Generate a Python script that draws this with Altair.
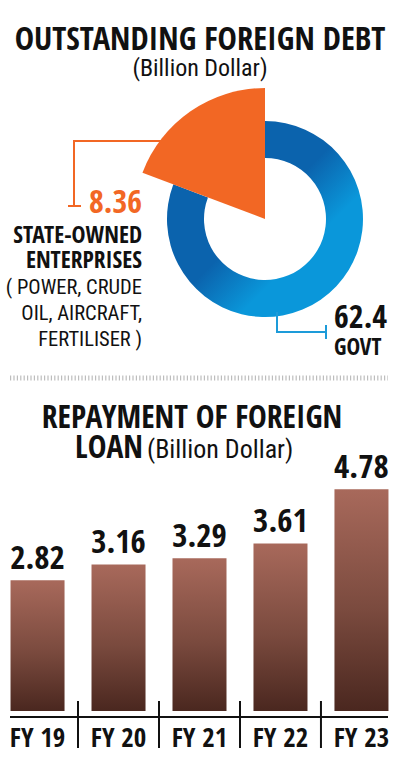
import altair as alt
import pandas as pd

# ---- data ----
debt_cats = ["Govt", "State-owned enterprises"]
debt_vals = [62.4, 8.36]
fy_labels = ["FY 19", "FY 20", "FY 21", "FY 22", "FY 23"]
repay_vals = [2.82, 3.16, 3.29, 3.61, 4.78]

debt_df = pd.DataFrame({"cat": debt_cats, "value": debt_vals, "ord": [0, 1]})
bar_df = pd.DataFrame({"FY": fy_labels, "value": repay_vals})

BOLD = "'Open Sans Condensed', 'Roboto Condensed', sans-serif"
REG = "'Roboto Condensed', 'Open Sans Condensed', sans-serif"
ORANGE = "#f26724"
BLUE_LINE = "#1d9bd9"

one = pd.DataFrame({"a": [0]})


def txt(s, x, y, size, color="#111111", align="left", font=BOLD, weight="bold"):
    return alt.Chart(one).mark_text(
        text=s, font=font, fontSize=size, fontWeight=weight, color=color,
        align=align, baseline="alphabetic"
    ).encode(x=alt.value(x), y=alt.value(y))


def rule(x, x2, y, y2, color, w=2):
    return alt.Chart(one).mark_rule(color=color, strokeWidth=w).encode(
        x=alt.value(x), x2=alt.value(x2), y=alt.value(y), y2=alt.value(y2))


blue_grad = alt.Gradient(
    gradient="linear", x1=0, y1=0, x2=1, y2=1,
    stops=[alt.GradientStop(offset=0.48, color="#0b63ad"), alt.GradientStop(offset=0.68, color="#0a97da")],
)

theta_scale = alt.Scale(type="pow", exponent=1.7)


def slice_layer(cat, r, r2, color):
    # every layer stacks both slices, only one of them is made visible
    return alt.Chart(debt_df).mark_arc(radius=r, radius2=r2, color=color).encode(
        theta=alt.Theta("value:Q", stack=True, scale=theta_scale),
        order=alt.Order("ord:Q", sort="ascending"),
        opacity=alt.condition(alt.datum.cat == cat, alt.value(1), alt.value(0)),
        x=alt.value(265),
        y=alt.value(219),
    )


donut_govt = slice_layer("Govt", 98, 61, blue_grad)
donut_soe = slice_layer("State-owned enterprises", 131, 0, ORANGE)

bar_grad = alt.Gradient(
    gradient="linear", x1=0, y1=0, x2=0, y2=1,
    stops=[alt.GradientStop(color="#a8695b", offset=0),
           alt.GradientStop(color="#7a4a3e", offset=0.55),
           alt.GradientStop(color="#4a271f", offset=1)],
)
xscale = alt.Scale(range=[0, 399], paddingInner=0.333, paddingOuter=0.13)
bars = alt.Chart(bar_df).mark_bar(color=bar_grad).encode(
    x=alt.X("FY:N", scale=xscale, axis=None, sort=fy_labels),
    y=alt.Y("value:Q", scale=alt.Scale(domain=[0, 5], range=[711, 479]), axis=None),
)
bar_labels = alt.Chart(bar_df).mark_text(
    font=BOLD, fontWeight="bold", fontSize=33, color="#111111", baseline="alphabetic", dy=-11
).encode(x=alt.X("FY:N", sort=fy_labels), y="value:Q", text=alt.Text("value:Q", format=".2f"))
fy_text = alt.Chart(bar_df).mark_text(
    font=BOLD, fontWeight="bold", fontSize=27, color="#111111", baseline="alphabetic"
).encode(x=alt.X("FY:N", sort=fy_labels), y=alt.value(747), text="FY:N")
seps = alt.Chart(bar_df.iloc[1:]).mark_rule(color="#111111", strokeWidth=2, xOffset=-13.5).encode(
    x=alt.X("FY:N", bandPosition=0, sort=fy_labels), y=alt.value(701), y2=alt.value(748))
baseline = rule(10, 388, 717, 717, "#111111", 2.2)

divider = alt.Chart(one).mark_rule(color="#bdbdbd", strokeWidth=5, strokeDash=[1.2, 2.2]).encode(
    x=alt.value(10), x2=alt.value(388), y=alt.value(378))

layers = [
    donut_govt, donut_soe,
    # orange leader
    rule(74, 165, 141, 141, ORANGE), rule(74, 74, 140, 207, ORANGE), rule(68, 81, 206, 206, ORANGE),
    # blue leader
    rule(277, 277, 312, 332, BLUE_LINE), rule(276, 326, 332, 332, BLUE_LINE), rule(326, 326, 325, 339, BLUE_LINE),
    txt("OUTSTANDING FOREIGN DEBT", 200, 50, 32.5, align="center"),
    txt("(Billion Dollar)", 200, 76, 24, align="center", font=REG, weight="normal"),
    txt("8.36", 142, 213, 32, color=ORANGE, align="right"),
    txt("STATE-OWNED", 142, 243, 23.5, align="right"),
    txt("ENTERPRISES", 142, 268, 23.5, align="right"),
    txt("( POWER, CRUDE", 142, 294, 20.5, align="right", font=REG, weight="normal"),
    txt("OIL, AIRCRAFT,", 142, 320, 20.5, align="right", font=REG, weight="normal"),
    txt("FERTILISER )", 142, 346, 20.5, align="right", font=REG, weight="normal"),
    txt("62.4", 334, 328, 32),
    txt("GOVT", 334, 355, 23),
    divider,
    txt("REPAYMENT OF FOREIGN", 192, 428, 31.5, align="center"),
    txt("LOAN", 75, 458, 31.5),
    txt("(Billion Dollar)", 147, 458, 26, font=REG, weight="normal"),
    bars, bar_labels, fy_text, seps, baseline,
]

chart = alt.layer(*layers).properties(
    width=399, height=769, autosize=alt.AutoSizeParams(type="none"), padding=0
).configure_view(stroke=None)

chart.save("out.html", embed_options={"renderer": "svg", "actions": False})
